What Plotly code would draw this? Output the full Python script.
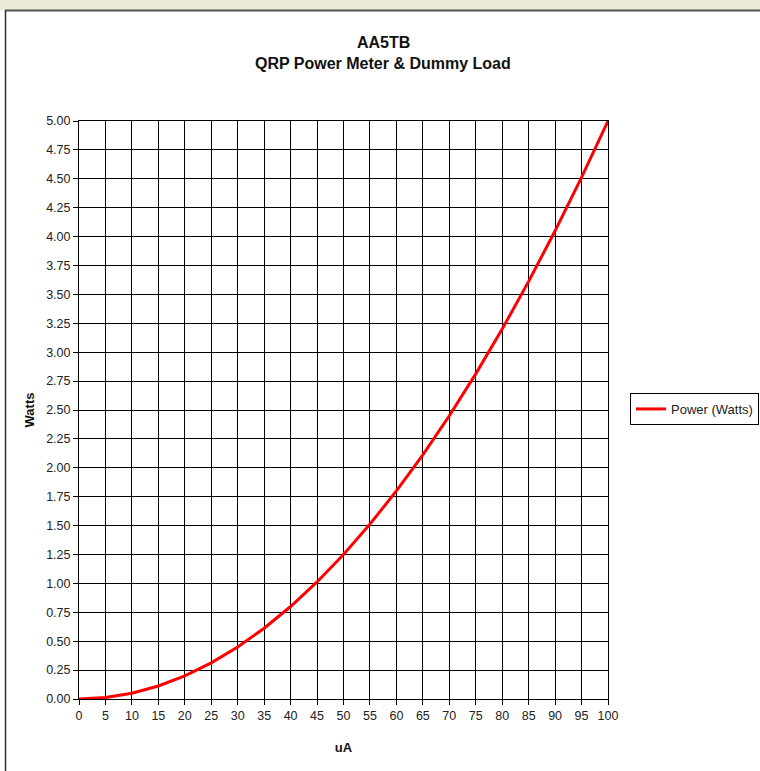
import plotly.graph_objects as go

current_uA = [0, 5, 10, 15, 20, 25, 30, 35, 40, 45, 50, 55, 60, 65, 70, 75, 80, 85, 90, 95, 100]
power_watts = [0.00, 0.0125, 0.05, 0.1125, 0.20, 0.3125, 0.45, 0.6125, 0.80, 1.0125, 1.25,
               1.5125, 1.80, 2.1125, 2.45, 2.8125, 3.20, 3.6125, 4.05, 4.5125, 5.00]
series_name = "Power (Watts)"
title_lines = ["AA5TB", "QRP Power Meter & Dummy Load"]
x_title = "uA"
y_title = "Watts"

FONT = "Liberation Sans, Arial, sans-serif"
L, R, T, B = 79, 152, 121, 72
W, H = 760, 771
pw, ph = W - L - R, H - T - B

fig = go.Figure()
fig.add_trace(go.Scatter(x=current_uA, y=power_watts, mode="lines", name=series_name,
                         line=dict(color="#FF0000", width=3), showlegend=True))

def px_x(p):
    return (p - L) / pw

def px_y(p):
    return (H - B - p) / ph

shapes = [
    dict(type="rect", xref="paper", yref="paper", x0=px_x(0), x1=px_x(W), y0=px_y(10), y1=px_y(0),
         fillcolor="#ECE9D8", line=dict(width=0), layer="below"),
    dict(type="line", xref="paper", yref="paper", x0=px_x(5), x1=px_x(W), y0=px_y(10.5), y1=px_y(10.5),
         line=dict(color="#555555", width=2)),
    dict(type="line", xref="paper", yref="paper", x0=px_x(5.5), x1=px_x(5.5), y0=px_y(10), y1=px_y(H),
         line=dict(color="#333333", width=1.5)),
]

annotations = [
    dict(text="<b>" + title_lines[0] + "</b>", xref="paper", yref="paper", x=px_x(383), y=px_y(42),
         xanchor="center", yanchor="middle", showarrow=False, font=dict(family=FONT, size=16, color="#111111")),
    dict(text="<b>" + title_lines[1] + "</b>", xref="paper", yref="paper", x=px_x(383), y=px_y(64),
         xanchor="center", yanchor="middle", showarrow=False, font=dict(family=FONT, size=16, color="#111111")),
]

fig.update_layout(
    width=W, height=H,
    margin=dict(l=L, r=R, t=T, b=B),
    paper_bgcolor="white", plot_bgcolor="white",
    font=dict(family=FONT, size=12, color="#222222"),
    xaxis=dict(range=[0, 100], tickmode="linear", tick0=0, dtick=5,
               showgrid=True, gridcolor="#000000", gridwidth=1,
               showline=True, linecolor="#000000", linewidth=1, mirror=True,
               ticks="outside", ticklen=5, tickcolor="#000000",
               zeroline=False, tickfont=dict(size=12.5, color="#222222"),
               title=dict(text="<b>" + x_title + "</b>", font=dict(size=13, color="#111111"), standoff=20)),
    yaxis=dict(range=[0, 5], tickmode="linear", tick0=0, dtick=0.25, tickformat=".2f",
               showgrid=True, gridcolor="#000000", gridwidth=1,
               showline=True, linecolor="#000000", linewidth=1, mirror=True,
               ticks="outside", ticklen=5, tickcolor="#000000",
               zeroline=False, tickfont=dict(size=12.5, color="#222222"),
               title=dict(text="<b>" + y_title + "</b>", font=dict(size=13, color="#111111"), standoff=8)),
    legend=dict(xref="container", yref="container", x=630 / W, xanchor="left", y=1 - 409 / H, yanchor="middle",
                bordercolor="#000000", borderwidth=1, bgcolor="white",
                font=dict(size=13, color="#222222"), itemwidth=30),
    shapes=shapes,
    annotations=annotations,
)

fig.write_html("out.html", config={"displayModeBar": False},
               post_script="document.body.style.margin='0';")
